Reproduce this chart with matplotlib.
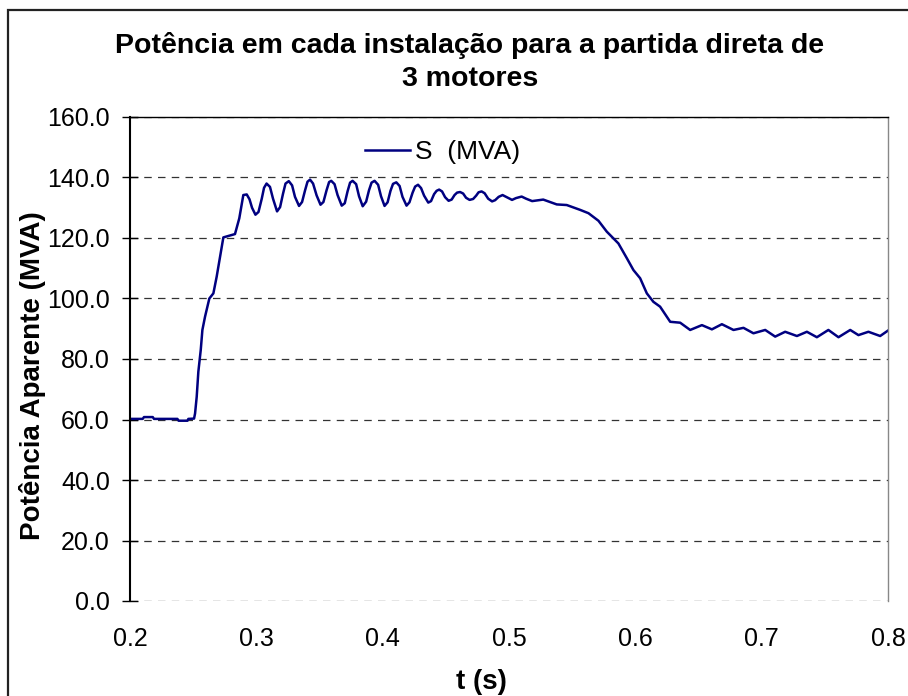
import matplotlib
matplotlib.use("Agg")
import matplotlib.pyplot as plt
from matplotlib.patches import Rectangle

plt.rcParams["font.family"] = ["Liberation Sans", "DejaVu Sans"]

# tempo (s) e potência aparente (MVA)
t = [
    0.2000, 0.2100, 0.2111, 0.2180, 0.2190, 0.2375, 0.2385, 0.2455, 0.2462,
    0.2507, 0.2515, 0.2528, 0.2541, 0.2560, 0.2573, 0.2594, 0.2628, 0.2660,
    0.2686, 0.2713, 0.2739, 0.2790, 0.2831, 0.2865,
    0.2897, 0.2924, 0.2946, 0.2966, 0.2993, 0.3017, 0.3043, 0.3061,
    0.3081, 0.3108, 0.3132, 0.3164, 0.3188, 0.3211, 0.3231,
    0.3257, 0.3283, 0.3306, 0.3338, 0.3362, 0.3386, 0.3405,
    0.3425, 0.3449, 0.3477, 0.3508, 0.3531, 0.3556, 0.3576,
    0.3593, 0.3619, 0.3643, 0.3676, 0.3700, 0.3722, 0.3742,
    0.3762, 0.3790, 0.3813, 0.3842, 0.3869, 0.3892, 0.3912,
    0.3936, 0.3964, 0.3987, 0.4015, 0.4039, 0.4062, 0.4082,
    0.4108, 0.4134, 0.4157, 0.4189, 0.4212, 0.4237, 0.4257,
    0.4280, 0.4304, 0.4328, 0.4361, 0.4383, 0.4407, 0.4427,
    0.4447, 0.4470, 0.4494, 0.4522, 0.4546, 0.4569, 0.4589,
    0.4613, 0.4637, 0.4660, 0.4688, 0.4716, 0.4740, 0.4759,
    0.4783, 0.4807, 0.4835, 0.4866, 0.4890, 0.4918,
    0.4949, 0.4977, 0.5024, 0.5056, 0.5100, 0.5135, 0.5183, 0.5271,
    0.5378, 0.5457, 0.5563, 0.5629, 0.5708, 0.5774, 0.5866, 0.5933, 0.5985,
    0.6038, 0.6091, 0.6143, 0.6196, 0.6276, 0.6355, 0.6434, 0.6527, 0.6606,
    0.6685, 0.6777, 0.6856, 0.6935, 0.7028, 0.7107, 0.7186, 0.7279, 0.7358,
    0.7437, 0.7528, 0.7608, 0.7701, 0.7766, 0.7845, 0.7938, 0.8000,
]
s_mva = [
    60.2, 60.2, 60.8, 60.8, 60.2, 60.2, 59.6, 59.6, 60.2,
    60.3, 62.0, 67.5, 75.8, 83.0, 89.6, 94.0, 100.0, 101.7,
    107.2, 113.8, 120.2, 120.8, 121.3, 126.5,
    134.2, 134.4, 132.8, 130.0, 127.7, 128.6, 133.0, 136.6,
    138.0, 136.9, 133.0, 128.8, 130.2, 134.6, 138.0,
    138.8, 137.4, 133.6, 130.6, 131.9, 135.8, 138.6,
    139.3, 138.0, 134.1, 131.0, 131.9, 135.8, 138.5,
    138.9, 137.8, 134.2, 130.7, 131.5, 135.4, 138.3,
    138.9, 137.8, 133.8, 130.5, 132.0, 135.8, 138.3,
    138.9, 137.6, 133.8, 130.6, 131.8, 135.6, 137.9,
    138.4, 137.2, 133.6, 130.7, 131.8, 135.0, 137.0,
    137.6, 136.5, 134.0, 131.7, 132.2, 134.5, 135.6,
    136.0, 135.4, 133.5, 132.3, 132.7, 134.2, 135.0,
    135.2, 134.7, 133.3, 132.6, 132.9, 134.0, 135.1,
    135.4, 134.8, 133.0, 132.1, 132.5, 133.6,
    134.2, 133.6, 132.6, 133.2, 133.7, 133.0, 132.2, 132.7,
    131.1, 130.9, 129.3, 128.2, 125.7, 122.1, 118.2, 113.3, 109.4,
    106.7, 101.7, 98.9, 97.3, 92.3, 92.0, 89.6, 91.2, 89.8,
    91.5, 89.6, 90.3, 88.5, 89.6, 87.4, 89.0, 87.6, 89.0,
    87.2, 89.6, 87.2, 89.6, 87.9, 89.0, 87.6, 89.4,
]

x_ticks = [0.2, 0.3, 0.4, 0.5, 0.6, 0.7, 0.8]
y_ticks = [0, 20, 40, 60, 80, 100, 120, 140, 160]

fig = plt.figure(figsize=(9.08, 6.96), dpi=100)
ax = fig.add_axes([130 / 908, 1 - 601 / 696, 758 / 908, 484 / 696])

# moldura externa (cortada à direita e embaixo, como no original)
fig.patches.append(Rectangle((8 / 908, -0.05), 1.0, 1 - 10 / 696 + 0.05,
                             transform=fig.transFigure, fill=False,
                             edgecolor="#222222", linewidth=1.6, clip_on=False))

ax.plot(t, s_mva, color="#000080", linewidth=1.8, label="S  (MVA)")

ax.set_xlim(0.2, 0.8)
ax.set_ylim(0, 160)
ax.set_xticks(x_ticks)
ax.set_xticklabels([f"{v:.1f}" for v in x_ticks])
ax.set_yticks(y_ticks)
ax.set_yticklabels([f"{v:.1f}" for v in y_ticks])
ax.tick_params(axis="y", direction="inout", length=11, width=1, labelsize=18, pad=9)
ax.tick_params(axis="x", length=0, labelsize=18, pad=19)

ax.yaxis.grid(True, linestyle=(0, (6, 5)), color="#333333", linewidth=0.9)
ax.set_axisbelow(True)

ax.spines["left"].set_color("black")
ax.spines["left"].set_linewidth(1.5)
ax.spines["top"].set_color("black")
ax.spines["top"].set_linewidth(1.0)
ax.spines["right"].set_color("#888888")
ax.spines["right"].set_linewidth(1.0)
ax.spines["bottom"].set_visible(False)

ax.set_xlabel("t (s)", fontsize=20, fontweight="bold", labelpad=13)
ax.set_ylabel("Potência Aparente (MVA)", fontsize=20, fontweight="bold", labelpad=0.5)
ax.xaxis.label.set_x(0.464)
ax.yaxis.label.set_y(0.465)

fig.text(470 / 908, 1 - 62 / 696, "Potência em cada instalação para a partida direta de\n3 motores",
         ha="center", va="center", fontsize=20.5, fontweight="bold", linespacing=1.35)

ax.legend(loc="center left", bbox_to_anchor=(0.310, 0.9277), frameon=False,
          fontsize=19, handlelength=1.7, handletextpad=0.2, borderpad=0,
          borderaxespad=0)

fig.savefig("out.png", dpi=100)
